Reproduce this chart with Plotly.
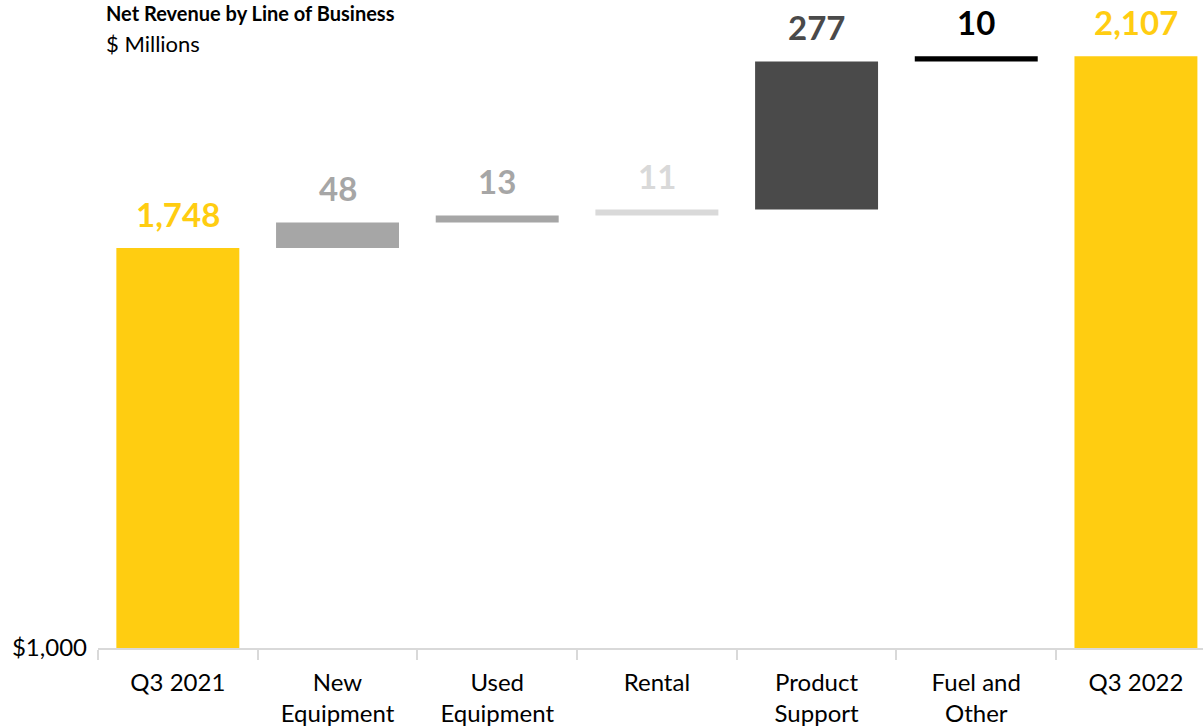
import plotly.graph_objects as go

categories = ["Q3 2021", "New<br>Equipment", "Used<br>Equipment", "Rental",
              "Product<br>Support", "Fuel and<br>Other", "Q3 2022"]
values = [1748, 48, 13, 11, 277, 10, 2107]
is_total = [True, False, False, False, False, False, True]
labels = ["1,748", "48", "13", "11", "277", "10", "2,107"]
colors = ["#FFCD11", "#A6A6A6", "#A6A6A6", "#D9D9D9", "#4A4A4A", "#000000", "#FFCD11"]
y_min, y_max = 1000, 2212

bases, tops = [], []
running = 0
for v, t in zip(values, is_total):
    if t:
        bases.append(0)
        running = v
        tops.append(v)
    else:
        bases.append(running)
        running += v
        tops.append(running)
heights = [t - b for t, b in zip(tops, bases)]

FONT = "Lato"
fig = go.Figure()
fig.add_trace(go.Bar(
    x=categories, y=heights, base=bases,
    marker=dict(color=colors, line=dict(width=0)),
    width=0.77, hoverinfo="skip",
))

for c, top, lab, col in zip(categories, tops, labels, colors):
    fig.add_annotation(x=c, y=top, text=f"<b>{lab}</b>", showarrow=False,
                       yanchor="bottom", yshift=12,
                       font=dict(family=FONT, size=33, color=col))

fig.add_annotation(xref="paper", yref="paper", x=0.006, y=1,
                   xanchor="left", yanchor="top", showarrow=False,
                   text="<b>Net Revenue by Line of Business</b>", borderpad=0,
                   font=dict(family=FONT, size=20, color="#000000"))
fig.add_annotation(xref="paper", yref="paper", x=0.006, y=1 - 29 / 648,
                   xanchor="left", yanchor="top", showarrow=False,
                   text="$ Millions", borderpad=0,
                   font=dict(family=FONT, size=22, color="#000000"))

fig.update_layout(
    width=1203, height=727,
    margin=dict(l=98, r=0, t=0, b=79),
    plot_bgcolor="white", paper_bgcolor="white",
    showlegend=False, bargap=0.23,
    font=dict(family=FONT, size=24, color="#000000"),
)
fig.update_xaxes(
    range=[-0.5, 6.42], showline=True, linecolor="#D9D9D9", linewidth=2,
    ticks="outside", tickson="boundaries", ticklen=10, tickcolor="#D9D9D9",
    tickwidth=2, showgrid=False, tickfont=dict(family=FONT, size=24),
    ticklabelstandoff=12,
)
fig.update_yaxes(
    range=[y_min, y_max], tickvals=[1000], ticktext=["$1,000"], showgrid=False,
    zeroline=False, showline=False, ticks="", tickfont=dict(family=FONT, size=24),
    ticklabelstandoff=10,
)

fig.write_html("out.html", config={"displayModeBar": False},
               post_script="document.body.style.margin='0';document.body.style.overflow='hidden';")
